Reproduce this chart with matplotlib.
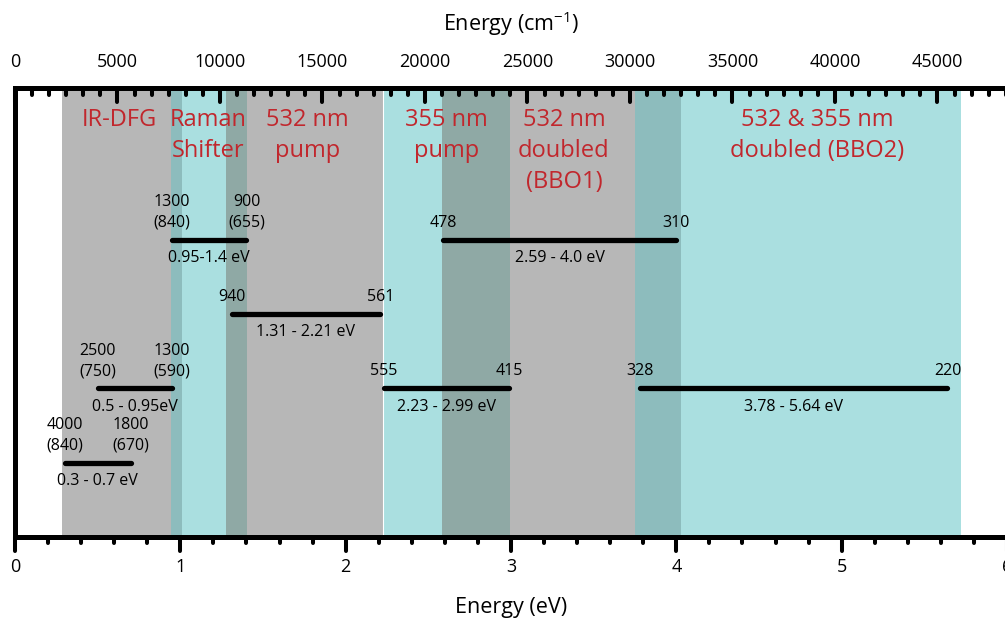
import matplotlib
matplotlib.use('Agg')
import matplotlib.pyplot as plt
from matplotlib.markers import MarkerStyle
from matplotlib.ticker import MultipleLocator

plt.rcParams['font.family'] = ['Open Sans', 'DejaVu Sans']
plt.rcParams['mathtext.default'] = 'regular'

EV_TO_CM = 8065.54

# spectral coverage of each stage (eV)
band_names = ['IR-DFG', 'Raman\nShifter', '532 nm\npump', '355 nm\npump',
              '532 nm\ndoubled\n(BBO1)', '532 & 355 nm\ndoubled (BBO2)']
band_lo = [0.285, 0.942, 1.274, 2.226, 2.582, 3.751]
band_hi = [1.010, 1.404, 2.226, 2.995, 4.030, 5.722]
band_kind = ['gray', 'cyan', 'gray', 'cyan', 'gray', 'cyan']
band_label_x = [0.63, 1.17, 1.77, 2.61, 3.32, 4.85]

# tuning ranges (eV), row, and end labels (nm / wavelength)
range_lo = [0.95, 2.59, 1.31, 0.5, 2.23, 3.78, 0.3]
range_hi = [1.4, 4.0, 2.21, 0.95, 2.99, 5.64, 0.7]
range_row = [4, 4, 3, 2, 2, 2, 1]
range_left = ['1300\n(840)', '478', '940', '2500\n(750)', '555', '328', '4000\n(840)']
range_right = ['900\n(655)', '310', '561', '1300\n(590)', '415', '220', '1800\n(670)']
range_text = ['0.95-1.4 eV', '2.59 - 4.0 eV', '1.31 - 2.21 eV', '0.5 - 0.95eV',
              '2.23 - 2.99 eV', '3.78 - 5.64 eV', '0.3 - 0.7 eV']

colors = {'gray': '#b7b7b7', 'cyan': '#aadfe0'}
overlap_colors = {'gray': '#8fa9a5', 'cyan': '#8dbcbd'}  # keyed by the band on top
red = '#c1272d'

fig = plt.figure(figsize=(10.05, 6.2), dpi=100)
ax = fig.add_axes([15 / 1005, 83 / 620, 992 / 1005, 449 / 620])
ax.set_xlim(0, 6)
ax.set_ylim(0, 6.04)

# shaded bands, overlaps tinted by whichever band sits on top
for i in range(len(band_lo)):
    ax.axvspan(band_lo[i], band_hi[i], color=colors[band_kind[i]], lw=0, zorder=1)
for i in range(1, len(band_lo)):
    lo = max(band_lo[i], band_lo[i - 1])
    hi = min(band_hi[i], band_hi[i - 1])
    if hi > lo:
        ax.axvspan(lo, hi, color=overlap_colors[band_kind[i]], lw=0, zorder=2)
ax.axvline(band_hi[2], color='white', lw=0.8, zorder=2)

for name, x in zip(band_names, band_label_x):
    ax.text(x, 5.77, name, color=red, fontsize=17, ha='center', va='top',
            linespacing=1.38, zorder=4)

# tuning range bars
for lo, hi, row, lt, rt, txt in zip(range_lo, range_hi, range_row,
                                     range_left, range_right, range_text):
    ax.plot([lo, hi], [row, row], color='black', lw=3.8, solid_capstyle='round', zorder=5)
    ax.text(lo, row + 0.12, lt, fontsize=11.5, ha='center', va='bottom', linespacing=1.4, zorder=5)
    ax.text(hi, row + 0.12, rt, fontsize=11.5, ha='center', va='bottom', linespacing=1.4, zorder=5)
    ax.text((lo + hi) / 2, row - 0.14, txt, fontsize=11.5, ha='center', va='top', zorder=5)

# axes frame
for side in ['right', 'top']:
    ax.spines[side].set_visible(False)
for side in ['left', 'bottom']:
    ax.spines[side].set_linewidth(3.6)
ax.set_yticks([])

ax.xaxis.set_major_locator(MultipleLocator(1))
ax.xaxis.set_minor_locator(MultipleLocator(0.2))
ax.tick_params(axis='x', which='major', direction='out', length=10, width=2.9, pad=5, labelsize=13)
ax.tick_params(axis='x', which='minor', direction='out', length=4.5, width=2.9)
ax.set_xlabel('Energy (eV)', fontsize=15.5, labelpad=15)

# wavenumber scale on top
top = ax.twiny()
top.set_xlim(ax.get_xlim()[0] * EV_TO_CM, ax.get_xlim()[1] * EV_TO_CM)
for side in ['left', 'right', 'bottom']:
    top.spines[side].set_visible(False)
top.spines['top'].set_linewidth(3.6)
top.xaxis.set_major_locator(MultipleLocator(5000))
top.xaxis.set_minor_locator(MultipleLocator(5000 / 6))
top.tick_params(axis='x', which='major', direction='in', length=10, width=2.9, pad=12, labelsize=13)
top.tick_params(axis='x', which='minor', direction='in', length=5, width=2.9)
top.set_xlabel('Energy (cm$^{-1}$)', fontsize=15.5, labelpad=16)

# rounded tick ends
fig.canvas.draw()
for axis in [ax.xaxis, top.xaxis]:
    for t in axis.get_major_ticks() + axis.get_minor_ticks():
        for ln in [t.tick1line, t.tick2line]:
            ln.set_marker(MarkerStyle(ln.get_marker(), capstyle='round'))

fig.savefig('out.png', dpi=100)
plt.close(fig)
